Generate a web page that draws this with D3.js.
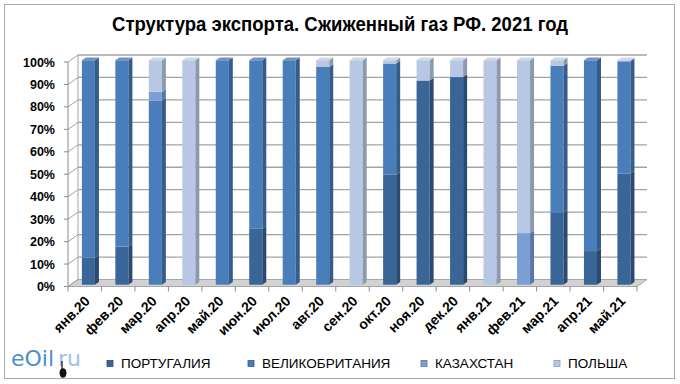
<!DOCTYPE html>
<html>
<head>
<meta charset="utf-8">
<script src="https://cdn.jsdelivr.net/npm/d3@7"></script>
<style>
  body { margin: 0; background: #fff; }
  text { font-family: "Liberation Sans", Arial, sans-serif; }
</style>
</head>
<body>
<script>
// months on the x axis
var months = ["янв.20","фев.20","мар.20","апр.20","май.20","июн.20","июл.20","авг.20","сен.20",
              "окт.20","ноя.20","дек.20","янв.21","фев.21","мар.21","апр.21","май.21"];
var countries = ["ПОРТУГАЛИЯ","ВЕЛИКОБРИТАНИЯ","КАЗАХСТАН","ПОЛЬША"];
// share of export, %
var portugal   = [12, 17,  0,   0,   0, 25,   0,  0,   0, 49, 91, 92.5,   0,  0, 32, 15, 49.5];
var britain    = [88, 83, 82,   0, 100, 75, 100, 97,   0, 49.5, 0, 0,     0,  0, 65.5, 85, 50];
var kazakhstan = [ 0,  0,  4,   0,   0,  0,   0,  0,   0,  0,  0,  0,     0, 23,  0,  0,  0];
var poland     = [ 0,  0, 14, 100,   0,  0,   0,  3, 100, 1.5, 9, 7.5,  100, 77, 2.5, 0, 0.5];
var yTicks = [0,10,20,30,40,50,60,70,80,90,100];

var W = 680, H = 384;
var faces = {
  "ПОРТУГАЛИЯ":     {f: "#3a6597", s: "#2a4a72", t: "#5a7aa6"},
  "ВЕЛИКОБРИТАНИЯ": {f: "#4a7ebb", s: "#355d8c", t: "#7492c0"},
  "КАЗАХСТАН":      {f: "#7b9fd2", s: "#5a78a4", t: "#9fb5da"},
  "ПОЛЬША":         {f: "#b7c7e4", s: "#8d99ae", t: "#cfd8e8"}
};

var svg = d3.select("body").append("svg")
  .attr("width", W).attr("height", H);

svg.append("rect")
  .attr("x", 4.5).attr("y", 4.5)
  .attr("width", 670).attr("height", 374)
  .attr("fill", "#fff").attr("stroke", "#a9a9a9");

svg.append("text")
  .attr("x", 340).attr("y", 31)
  .attr("text-anchor", "middle")
  .attr("textLength", 456).attr("lengthAdjust", "spacingAndGlyphs")
  .style("font-weight", "bold")
  .style("font-size", "21px")
  .text("Структура экспорта. Сжиженный газ РФ. 2021 год");

// 3d projection: depth offset
var DX = 10, DY = -7;
var x = d3.scaleBand().domain(months).range([68, 637]).padding(0);
var y = d3.scaleLinear().domain([0, 1]).range([286.5, 62]);

var rows = months.map(function(m, i) {
  return {month: m, "ПОРТУГАЛИЯ": portugal[i], "ВЕЛИКОБРИТАНИЯ": britain[i],
          "КАЗАХСТАН": kazakhstan[i], "ПОЛЬША": poland[i]};
});
var series = d3.stack().keys(countries).offset(d3.stackOffsetExpand)(rows);

function pt(px, py, z) { return [px + DX * z, py + DY * z]; }
function poly(pts) { return "M" + pts.map(function(p) { return p[0] + "," + p[1]; }).join("L") + "Z"; }

// floor
var y0 = y(0);
svg.append("path")
  .attr("d", poly([pt(68, y0, 0), pt(637, y0, 0), pt(637, y0, 1), pt(68, y0, 1)]))
  .attr("fill", "#d2d2d2").attr("stroke", "#a6a6a6");

// back wall grid and left wall lines
var grid = svg.append("g");
yTicks.forEach(function(t) {
  var yy = y(t / 100);
  if (t > 0) {
    grid.append("line")
      .attr("x1", 68 + DX).attr("x2", 637 + DX)
      .attr("y1", yy + DY).attr("y2", yy + DY)
      .attr("stroke", "#a3a3a3").attr("stroke-width", 1.3);
  }
  grid.append("line")
    .attr("x1", 68).attr("y1", yy)
    .attr("x2", 68 + DX).attr("y2", yy + DY)
    .attr("stroke", "#a3a3a3").attr("stroke-width", 1);
  grid.append("line")
    .attr("x1", 64).attr("x2", 68)
    .attr("y1", yy).attr("y2", yy)
    .attr("stroke", "#8c8c8c");
  svg.append("text")
    .attr("x", 55).attr("y", yy + 4.5)
    .attr("text-anchor", "end")
    .style("font-weight", "bold").style("font-size", "12.5px")
    .text(t + "%");
});
grid.append("line")
  .attr("x1", 68 + DX).attr("x2", 68 + DX)
  .attr("y1", y(0) + DY).attr("y2", y(1) + DY)
  .attr("stroke", "#a3a3a3");
grid.append("line")
  .attr("x1", 68).attr("x2", 68)
  .attr("y1", y(0)).attr("y2", y(1))
  .attr("stroke", "#8c8c8c");

// x ticks
months.concat([null]).forEach(function(m, i) {
  var xx = i < months.length ? x(m) : 637;
  svg.append("line")
    .attr("x1", xx).attr("x2", xx)
    .attr("y1", y0).attr("y2", y0 + 5)
    .attr("stroke", "#8c8c8c");
});

// bars
var bw = x.bandwidth() * 0.39, bOff = x.bandwidth() * 0.34, z0 = 0.25, z1 = 0.65;
var bars = svg.append("g");
months.forEach(function(m, i) {
  var xl = x(m) + bOff, xr = xl + bw;
  var last = -1;
  series.forEach(function(s, k) { if (s[i][1] - s[i][0] > 0) last = k; });
  series.forEach(function(s, k) {
    var d = s[i];
    if (d[1] - d[0] <= 0) return;
    var c = faces[s.key];
    var yb = y(d[0]), yt = y(d[1]);
    bars.append("path")
      .attr("d", poly([pt(xl, yb, z0), pt(xr, yb, z0), pt(xr, yt, z0), pt(xl, yt, z0)]))
      .attr("fill", c.f);
    bars.append("path")
      .attr("d", poly([pt(xr, yb, z0), pt(xr, yb, z1), pt(xr, yt, z1), pt(xr, yt, z0)]))
      .attr("fill", c.s);
    if (k === last) {
      bars.append("path")
        .attr("d", poly([pt(xl, yt, z0), pt(xr, yt, z0), pt(xr, yt, z1), pt(xl, yt, z1)]))
        .attr("fill", c.t);
    }
  });
});

// x labels
months.forEach(function(m) {
  var cx = x(m) + x.bandwidth() / 2 + 6;
  svg.append("text")
    .attr("transform", "translate(" + cx + "," + 302 + ") rotate(-45)")
    .attr("text-anchor", "end")
    .style("font-weight", "bold").style("font-size", "14px")
    .text(m);
});

// legend
var legX = [107, 248, 421, 554];
countries.forEach(function(c, i) {
  svg.append("rect")
    .attr("x", legX[i]).attr("y", 360.5)
    .attr("width", 6).attr("height", 6)
    .attr("fill", faces[c].f).attr("stroke", faces[c].s).attr("stroke-width", 0.8);
  svg.append("text")
    .attr("x", legX[i] + 14).attr("y", 368)
    .style("font-size", "13.5px")
    .text(c);
});

// logo
svg.append("text")
  .attr("x", 11).attr("y", 366)
  .attr("fill", "#4d8fc9")
  .style("font-family", "'DejaVu Sans', Verdana, sans-serif")
  .style("font-size", "22px")
  .text("eOil");
svg.append("text")
  .attr("x", 58).attr("y", 366)
  .attr("fill", "#9dc3e6")
  .style("font-family", "'DejaVu Sans', Verdana, sans-serif")
  .style("font-size", "22px")
  .text("ru");
svg.append("ellipse")
  .attr("cx", 63).attr("cy", 373).attr("rx", 3.5).attr("ry", 4.8)
  .attr("fill", "#111");
svg.append("line")
  .attr("x1", 62).attr("y1", 361).attr("x2", 62).attr("y2", 369)
  .attr("stroke", "#111").attr("stroke-width", 1.2);
</script>
</body>
</html>
